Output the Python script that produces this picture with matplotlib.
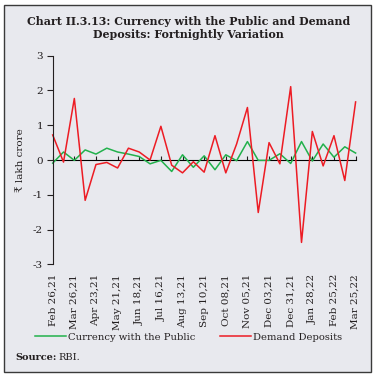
import matplotlib.pyplot as plt
from matplotlib.patches import Rectangle

# fortnightly variation, Feb 26,21 .. Mar 25,22 (29 fortnights)
currency = [-0.09, 0.23, -0.01, 0.29, 0.17, 0.34, 0.23, 0.17, 0.10, -0.11,
            -0.01, -0.33, 0.15, -0.21, 0.12, -0.28, 0.15, -0.02, 0.53, -0.01,
            -0.01, 0.18, -0.10, 0.53, -0.03, 0.46, 0.08, 0.38, 0.20]
demand = [0.72, -0.06, 1.77, -1.16, -0.13, -0.07, -0.23, 0.34, 0.23, 0.00,
          0.97, -0.15, -0.37, -0.05, -0.35, 0.70, -0.37, 0.46, 1.51, -1.51,
          0.50, -0.11, 2.11, -2.37, 0.82, -0.17, 0.70, -0.59, 1.67]
tick_labels = ['Feb 26,21', 'Mar 26,21', 'Apr 23,21', 'May 21,21', 'Jun 18,21',
               'Jul 16,21', 'Aug 13,21', 'Sep 10,21', 'Oct 08,21', 'Nov 05,21',
               'Dec 03,21', 'Dec 31,21', 'Jan 28,22', 'Feb 25,22', 'Mar 25,22']

plt.rcParams['font.family'] = ['DejaVu Serif', 'DejaVu Sans']
TXT = '#231f20'
BG = '#e8e9ee'
GREEN = '#22b14c'
RED = '#ed1c24'

fig = plt.figure(figsize=(3.77, 3.77), dpi=100)
fig.patch.set_facecolor('white')
fig.patches.append(Rectangle((4 / 377, 5 / 377), 367 / 377, 367 / 377,
                             transform=fig.transFigure, facecolor=BG,
                             edgecolor='#3a3a3a', linewidth=1.0, zorder=-5))

fig.text(0.5, 1 - 21.5 / 377, 'Chart II.3.13: Currency with the Public and Demand',
         ha='center', va='center', fontsize=7.9, fontweight='bold', color=TXT)
fig.text(0.5, 1 - 35 / 377, 'Deposits: Fortnightly Variation',
         ha='center', va='center', fontsize=7.9, fontweight='bold', color=TXT)

ax = fig.add_axes([52.7 / 377, 1 - 264.3 / 377, 302.9 / 377, 208.6 / 377])
ax.set_facecolor(BG)
ax.patch.set_alpha(0)
x = list(range(len(demand)))
ax.plot(x, currency, color=GREEN, lw=1.1, clip_on=False, label='Currency with the Public')
ax.plot(x, demand, color=RED, lw=1.1, clip_on=False, label='Demand Deposits')

ax.set_xlim(0, len(demand) - 1)
ax.set_ylim(-3, 3)
ax.set_yticks(range(-3, 4))
ax.set_yticklabels([str(v) for v in range(-3, 4)])
ax.tick_params(axis='y', length=4, width=0.8, direction='out', labelsize=7.5,
               colors=TXT, pad=3)

tick_pos = list(range(0, len(demand), 2))
ax.set_xticks(tick_pos)
ax.set_xticklabels(tick_labels, rotation=90)
ax.tick_params(axis='x', length=0, labelsize=7.5, colors=TXT, pad=7)

for s in ['top', 'right', 'bottom']:
    ax.spines[s].set_visible(False)
ax.spines['left'].set_color(TXT)
ax.spines['left'].set_linewidth(0.8)

# zero line with tick marks
zero = ax.secondary_xaxis(0.5)
zero.set_xticks(tick_pos)
zero.set_xticklabels([])
zero.tick_params(length=3, width=0.8, direction='out', colors=TXT)
zero.spines['bottom'].set_color(TXT)
zero.spines['bottom'].set_linewidth(0.8)

ax.set_ylabel('₹ lakh crore', fontsize=7.5, color=TXT, labelpad=6)

fig.legend(loc='center', bbox_to_anchor=(0.5, 1 - 337 / 377), ncol=2,
           frameon=False, fontsize=7.2, handlelength=3.1, handletextpad=0.2,
           columnspacing=2.4, labelcolor=TXT)

fig.text(15 / 377, 1 - 358 / 377, 'Source:', fontsize=7, fontweight='bold',
         color=TXT, va='center')
fig.text(58 / 377, 1 - 358 / 377, 'RBI.', fontsize=7, color=TXT, va='center')

fig.savefig('out.png', dpi=100, facecolor=fig.get_facecolor())
